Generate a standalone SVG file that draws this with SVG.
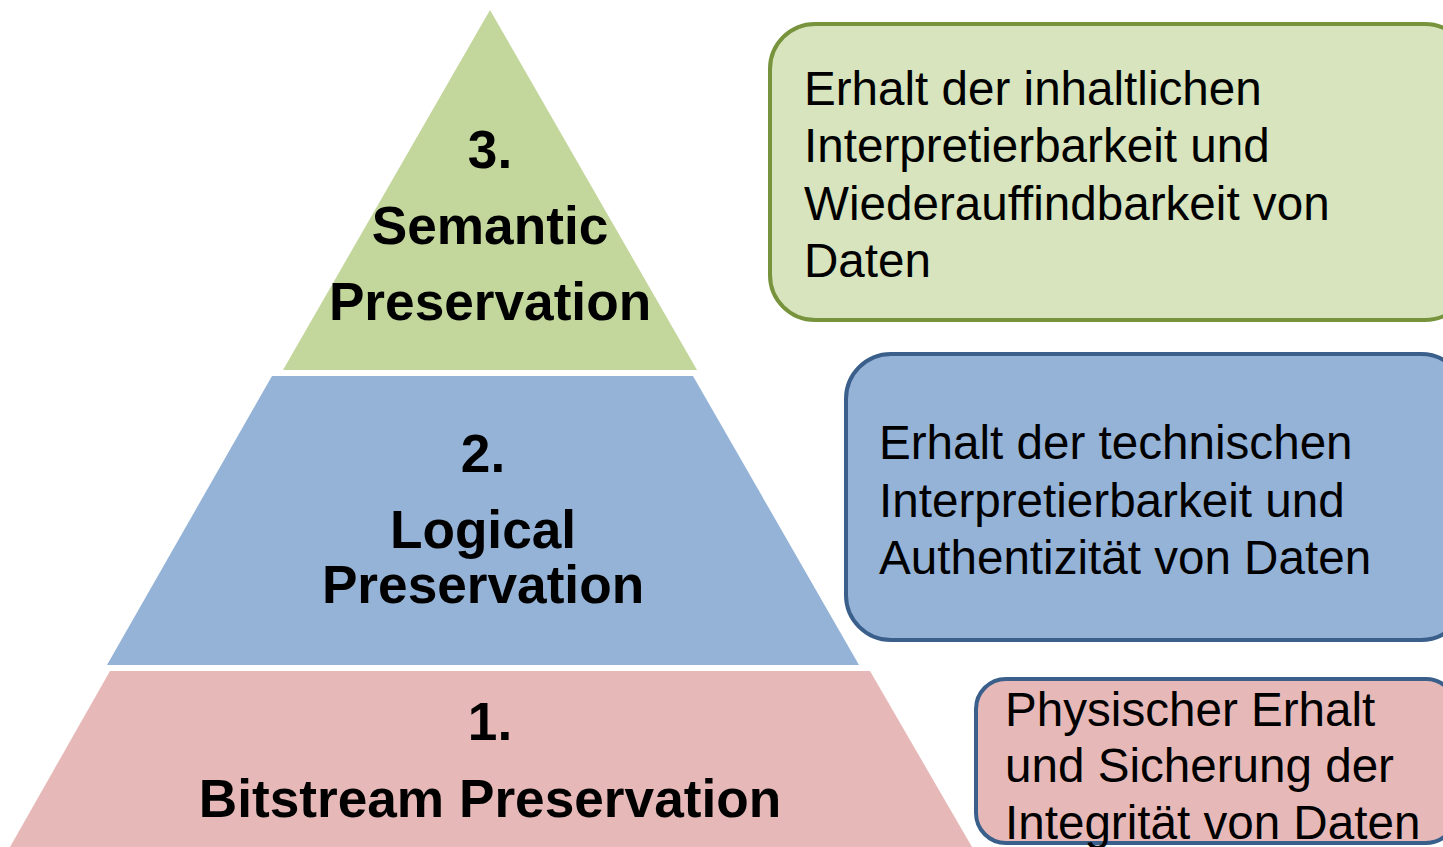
<svg xmlns="http://www.w3.org/2000/svg" width="1443" height="847" viewBox="0 0 1443 847">
<style>
.lvl{font-family:"Liberation Sans",Arial,sans-serif;font-weight:bold;font-size:53.2px;fill:#000;text-anchor:middle}
.desc{font-family:"Liberation Sans",Arial,sans-serif;font-size:47.6px;fill:#000}
.box{stroke-width:4}
</style>
<rect width="1443" height="847" fill="#fff"/>
<g id="level3">
<polygon points="490,10 283,370 697,370" fill="#c3d69b"/>
<text class="lvl" x="490" y="168">3.</text>
<text class="lvl" x="490" y="244">Semantic</text>
<text class="lvl" x="490" y="320">Preservation</text>
</g>
<g id="level2">
<polygon points="272,376 693,376 859,665 107,665" fill="#95b3d7"/>
<text class="lvl" x="483" y="472">2.</text>
<text class="lvl" x="483" y="548">Logical</text>
<text class="lvl" x="483" y="603">Preservation</text>
</g>
<g id="level1">
<polygon points="110,671 870,671 972,847 10,847" fill="#e6b9b8"/>
<text class="lvl" x="490" y="740">1.</text>
<text class="lvl" x="490" y="817">Bitstream Preservation</text>
</g>
<g id="desc3">
<rect class="box" x="770" y="24" width="700" height="296" rx="45" fill="#d7e4bd" stroke="#77933c"/>
<text class="desc" x="804" y="105">Erhalt der inhaltlichen</text>
<text class="desc" x="804" y="162">Interpretierbarkeit und</text>
<text class="desc" x="804" y="220">Wiederauffindbarkeit von</text>
<text class="desc" x="804" y="277">Daten</text>
</g>
<g id="desc2">
<rect class="box" x="846" y="354" width="620" height="286" rx="45" fill="#95b3d7" stroke="#3a5f8b"/>
<text class="desc" x="879" y="459">Erhalt der technischen</text>
<text class="desc" x="879" y="517">Interpretierbarkeit und</text>
<text class="desc" x="879" y="574">Authentizität von Daten</text>
</g>
<g id="desc1">
<rect class="box" x="976" y="679" width="480" height="164" rx="30" fill="#e6b9b8" stroke="#3a5f8b"/>
<text class="desc" x="1005" y="726">Physischer Erhalt</text>
<text class="desc" x="1005" y="782">und Sicherung der</text>
<text class="desc" x="1005" y="839">Integrität von Daten</text>
</g>
<g id="connectors"/>
</svg>
